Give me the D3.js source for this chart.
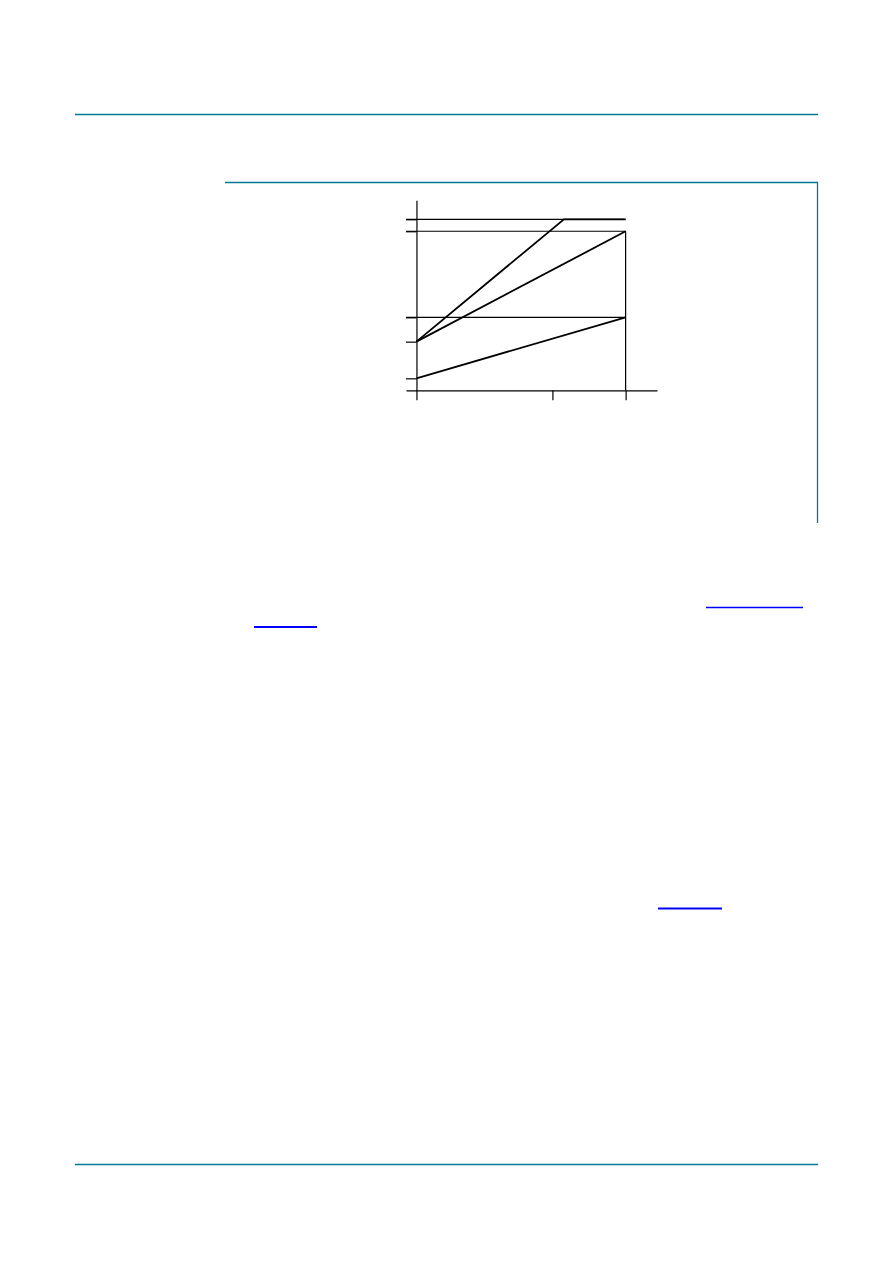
<!DOCTYPE html>
<html lang="en">
  <head>
    <meta charset="utf-8">
    <title>Chart</title>
    <style>
    body { margin: 0; background: #fff; }
    .axis path,
    .axis line {
      fill: none;
      stroke: #000;
      stroke-width: 1.2px;
    }
    .axis text { display: none; }
    .rule { stroke: #007a91; stroke-width: 1.3px; }
    .link { stroke: #0000ff; stroke-width: 1.5px; }
    </style>
    <script type="text/javascript" src="https://cdn.jsdelivr.net/npm/d3@7/dist/d3.min.js"></script>
  </head>
  <body>
    <script type="text/javascript">

      // Valeurs (unités arbitraires, pas de libellés)
      var xTicks = [0, 65, 100];
      var yTicks = [0.63, 2.56, 3.84, 8.37, 9.0];
      var guideLevels = [3.84, 8.37, 9.0];
      var seriesA = [{ x: 0, y: 2.56 }, { x: 70.5, y: 9.0 }, { x: 100, y: 9.0 }];
      var seriesB = [{ x: 0, y: 2.56 }, { x: 100, y: 8.37 }];
      var seriesC = [{ x: 0, y: 0.63 }, { x: 100, y: 3.84 }];
      var xEnd = 100;

      var width = 892;
      var height = 1263;
      var svg = d3.select("body")
          .append("svg")
          .attr("width", width)
          .attr("height", height);

      // Cadre de la page (filets teal et soulignés de liens)
      svg.append("line").attr("class", "rule")
          .attr("x1", 75).attr("x2", 818).attr("y1", 114.5).attr("y2", 114.5);
      svg.append("line").attr("class", "rule")
          .attr("x1", 75).attr("x2", 818).attr("y1", 1164.5).attr("y2", 1164.5);
      svg.append("path").attr("class", "rule").attr("fill", "none")
          .attr("d", "M225,182.5H817.5V523");

      svg.append("line").attr("class", "link")
          .attr("x1", 706).attr("x2", 803).attr("y1", 607.5).attr("y2", 607.5);
      svg.append("line").attr("class", "link").style("stroke-width", "2px")
          .attr("x1", 254).attr("x2", 317).attr("y1", 627).attr("y2", 627);
      svg.append("line").attr("class", "link").style("stroke-width", "2px")
          .attr("x1", 658).attr("x2", 722).attr("y1", 908.5).attr("y2", 908.5);

      // Échelles du graphique
      var xScale = d3.scaleLinear()
          .domain([-5, 115])
          .range([406, 657]);
      var yScale = d3.scaleLinear()
          .domain([0, 10])
          .range([390.3, 200.3]);

      var g = svg.append("g");

      // Axe X : base + graduations vers le bas
      g.append("g")
          .attr("class", "axis axis--x")
          .attr("transform", "translate(0," + yScale(0) + ")")
          .call(d3.axisBottom(xScale)
            .tickValues(xTicks)
            .tickSize(10)
            .tickSizeOuter(0)
            .tickFormat(""));

      // Axe Y : graduations vers la gauche
      g.append("g")
          .attr("class", "axis axis--y")
          .attr("transform", "translate(" + xScale(0) + ",0)")
          .call(d3.axisLeft(yScale)
            .tickValues(yTicks)
            .tickSize(xScale(0) - xScale(-5))
            .tickSizeOuter(0)
            .tickFormat(""));

      // Lignes de repère horizontales
      g.selectAll(".guide")
        .data(guideLevels)
        .enter()
        .append("line")
        .attr("class", "guide")
        .attr("stroke", "#000")
        .attr("stroke-width", 1.2)
        .attr("x1", xScale(-5))
        .attr("x2", xScale(xEnd))
        .attr("y1", d => yScale(d))
        .attr("y2", d => yScale(d));

      // Repère vertical à droite
      g.append("line")
        .attr("stroke", "#000")
        .attr("stroke-width", 1.2)
        .attr("x1", xScale(xEnd))
        .attr("x2", xScale(xEnd))
        .attr("y1", yScale(8.37))
        .attr("y2", yScale(0));

      // Courbes
      var line = d3.line()
          .x(d => xScale(d.x))
          .y(d => yScale(d.y));

      g.selectAll(".series")
        .data([seriesA, seriesB, seriesC])
        .enter()
        .append("path")
        .attr("class", "series")
        .attr("fill", "none")
        .attr("stroke", "#000")
        .attr("stroke-width", 1.8)
        .attr("d", line);

    </script>
  </body>
</html>
